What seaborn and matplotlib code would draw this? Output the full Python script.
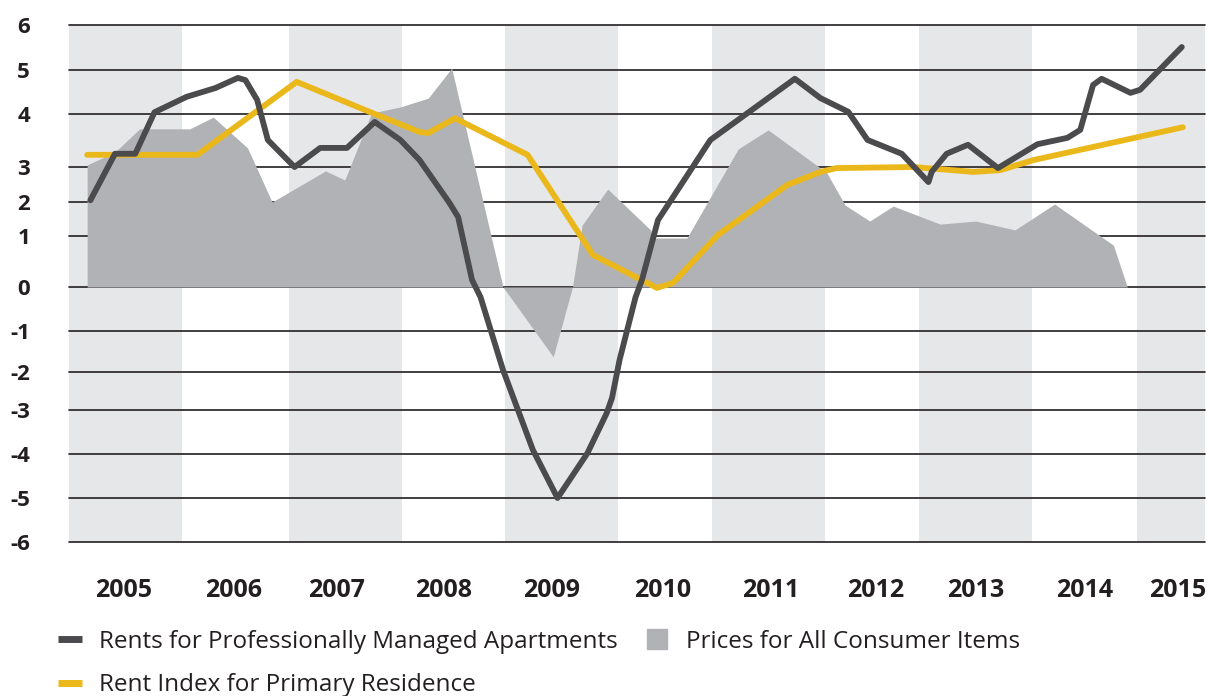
import numpy as np
import seaborn as sns
import matplotlib.pyplot as plt
from matplotlib.lines import Line2D

# Rents for professionally managed apartments (decimal year, % change)
managed_x = [2004.70, 2004.93, 2005.12, 2005.30, 2005.60, 2005.87, 2006.08, 2006.15, 2006.26,
             2006.36, 2006.61, 2006.85, 2007.10, 2007.36, 2007.60, 2007.78, 2008.06, 2008.14,
             2008.27, 2008.35, 2008.56, 2008.84, 2009.07, 2009.35, 2009.53, 2009.58, 2009.65,
             2009.80, 2009.86, 2010.01, 2010.50, 2011.29, 2011.53, 2011.79, 2011.97, 2012.29,
             2012.54, 2012.57, 2012.71, 2012.91, 2013.19, 2013.56, 2013.84, 2013.96, 2014.08,
             2014.16, 2014.43, 2014.52, 2014.91]
managed_y = [2.05, 3.25, 3.25, 4.04, 4.39, 4.59, 4.82, 4.77, 4.32,
             3.51, 3.00, 3.36, 3.36, 3.85, 3.51, 3.13, 1.97, 1.56,
             0.14, -0.23, -1.95, -3.91, -5.00, -3.98, -3.07, -2.68, -1.71,
             -0.23, 0.14, 1.47, 3.51, 4.80, 4.36, 4.05, 3.51, 3.25,
             2.57, 2.86, 3.25, 3.42, 2.97, 3.43, 3.55, 3.70, 4.66,
             4.80, 4.48, 4.55, 5.51]

# Rent index for primary residence
residence_x = [2004.67, 2005.70, 2006.63, 2007.34, 2007.78, 2007.86, 2008.11, 2008.79, 2009.40,
               2010.00, 2010.15, 2010.57, 2011.22, 2011.53, 2011.68, 2012.40, 2012.96, 2013.21,
               2013.52, 2014.92]
residence_y = [3.23, 3.23, 4.73, 4.02, 3.66, 3.64, 3.92, 3.23, 0.63,
               -0.02, 0.08, 1.03, 2.49, 2.86, 2.97, 3.00, 2.86, 2.91,
               3.13, 3.75]

# Prices for all consumer items
consumer_x = [2004.67, 2004.93, 2005.16, 2005.63, 2005.85, 2006.17, 2006.40, 2006.90, 2007.08,
              2007.33, 2007.60, 2007.86, 2008.08, 2008.56, 2009.03, 2009.21, 2009.30, 2009.54,
              2009.94, 2009.96, 2010.28, 2010.76, 2011.04, 2011.53, 2011.59, 2011.76, 2011.99,
              2012.21, 2012.65, 2012.98, 2013.35, 2013.72, 2014.27, 2014.40]
consumer_y = [3.04, 3.28, 3.72, 3.72, 3.94, 3.36, 2.00, 2.89, 2.63,
              4.02, 4.16, 4.36, 5.04, 0.00, -1.63, 0.00, 1.32, 2.37,
              1.18, 0.96, 0.96, 3.34, 3.70, 2.97, 2.83, 1.91, 1.44,
              1.88, 1.35, 1.44, 1.18, 1.94, 0.82, 0.00]

year_labels = ['2005', '2006', '2007', '2008', '2009', '2010', '2011', '2012', '2013', '2014', '2015']
year_ticks = [2005.01, 2006.04, 2007.00, 2008.00, 2009.01, 2010.05, 2011.06, 2012.05, 2012.98, 2014.00, 2014.87]
band_edges = [2004.5, 2005.557, 2006.558, 2007.615, 2008.579, 2009.636, 2010.515,
              2011.572, 2012.451, 2013.508, 2014.491, 2015.127]

# the original spaces its gridlines unevenly: height of each one within the plot
y_values = [-6, -5, -4, -3, -2, -1, 0, 1, 2, 3, 4, 5, 6]
y_rows = [0.0, 0.0851, 0.1702, 0.2553, 0.3288, 0.4081, 0.4932, 0.5919, 0.6576, 0.7253, 0.8279, 0.9130, 1.0]

DARK = '#4b4b4d'
YELLOW = '#ebb81c'
FILL = '#b1b2b5'
BAND = '#e6e7e8'
INK = '#231f20'

sns.set_theme(style='white')
plt.rcParams['font.family'] = ['Open Sans', 'DejaVu Sans']

fig = plt.figure(figsize=(12.1, 6.96), dpi=100)
ax = fig.add_axes([69 / 1210, 1 - 542 / 696, 1136 / 1210, 517 / 696])

ax.set_yscale('function', functions=(lambda v: np.interp(v, y_values, y_rows),
                                     lambda s: np.interp(s, y_rows, y_values)))
ax.set_ylim(-6, 6)
ax.set_xlim(band_edges[0], band_edges[-1])

for i in range(0, len(band_edges) - 1, 2):
    ax.axvspan(band_edges[i], band_edges[i + 1], color=BAND, lw=0, zorder=0)

for v in y_values:
    ax.axhline(v, color=INK, lw=1.2, zorder=1, clip_on=False)

ax.fill_between(consumer_x, 0, consumer_y, color=FILL, lw=0, zorder=2)
sns.lineplot(x=residence_x, y=residence_y, ax=ax, color=YELLOW, lw=4.2, estimator=None, zorder=3,
             solid_joinstyle='round')
sns.lineplot(x=managed_x, y=managed_y, ax=ax, color=DARK, lw=4.2, estimator=None, zorder=4,
             solid_joinstyle='round')

ax.set_yticks(y_values)
ax.set_yticklabels([str(v) for v in y_values])
ax.yaxis.set_minor_locator(plt.NullLocator())
ax.set_xticks(year_ticks)
ax.set_xticklabels(year_labels)
ax.tick_params(axis='y', length=0, pad=28, labelsize=16, labelcolor=INK)
ax.tick_params(axis='x', length=0, pad=26, labelsize=18, labelcolor=INK)
for lab in ax.get_xticklabels() + ax.get_yticklabels():
    lab.set_fontweight('bold')
ax.set_xlabel('')
ax.set_ylabel('')
for s in ax.spines.values():
    s.set_visible(False)

handles = [Line2D([], [], color=DARK, lw=5, solid_capstyle='butt'),
           Line2D([], [], color=YELLOW, lw=5, solid_capstyle='butt'),
           Line2D([], [], color=FILL, marker='s', markersize=15, ls='none')]
labels = ['Rents for Professionally Managed Apartments', 'Rent Index for Primary Residence',
          'Prices for All Consumer Items']
fig.legend(handles, labels, loc='upper left', bbox_to_anchor=(58 / 1210, 1 - 630 / 696),
           ncol=2, frameon=False, fontsize=17.5, handlelength=1.0, handletextpad=0.7,
           columnspacing=1.1, labelspacing=0.8, borderpad=0, borderaxespad=0,
           labelcolor=INK)

fig.savefig('out.png', dpi=100)
